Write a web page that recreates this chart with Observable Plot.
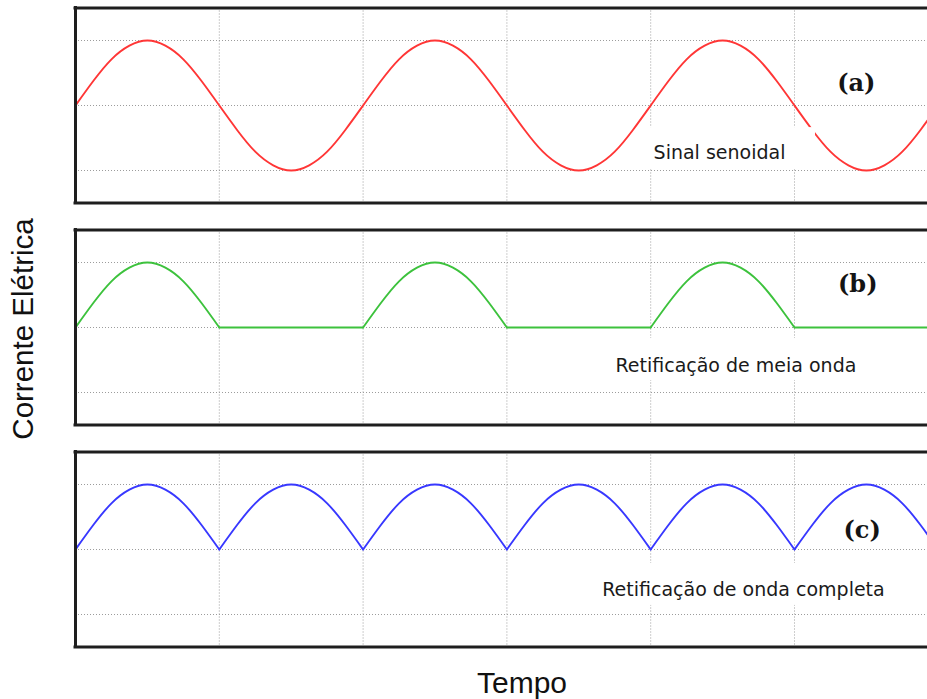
<!DOCTYPE html>
<html>
<head>
<meta charset="utf-8">
<script src="https://cdn.jsdelivr.net/npm/d3@7"></script>
<script src="https://cdn.jsdelivr.net/npm/@observablehq/plot@0.6"></script>
<style>
  html, body { margin: 0; padding: 0; background: #fff; overflow: hidden; }
  #wrap { position: relative; width: 927px; height: 699px; }
  #wrap svg { display: block; }
  #overlay { position: absolute; left: 0; top: 0; pointer-events: none; }
</style>
</head>
<body>
<div id="wrap"></div>
<script>
// Tempo (em meios-períodos)
const tempo = [
  0, 0.125, 0.25, 0.375, 0.5, 0.625, 0.75, 0.875,
  1, 1.125, 1.25, 1.375, 1.5, 1.625, 1.75, 1.875,
  2, 2.125, 2.25, 2.375, 2.5, 2.625, 2.75, 2.875,
  3, 3.125, 3.25, 3.375, 3.5, 3.625, 3.75, 3.875,
  4, 4.125, 4.25, 4.375, 4.5, 4.625, 4.75, 4.875,
  5, 5.125, 5.25, 5.375, 5.5, 5.625, 5.75, 5.875,
  6
];
// (a) Sinal senoidal
const senoidal = [
  0, 0.38, 0.71, 0.92, 1, 0.92, 0.71, 0.38,
  0, -0.38, -0.71, -0.92, -1, -0.92, -0.71, -0.38,
  0, 0.38, 0.71, 0.92, 1, 0.92, 0.71, 0.38,
  0, -0.38, -0.71, -0.92, -1, -0.92, -0.71, -0.38,
  0, 0.38, 0.71, 0.92, 1, 0.92, 0.71, 0.38,
  0, -0.38, -0.71, -0.92, -1, -0.92, -0.71, -0.38,
  0
];
// (b) Retificação de meia onda
const meiaOnda = [
  0, 0.38, 0.71, 0.92, 1, 0.92, 0.71, 0.38,
  0, 0, 0, 0, 0, 0, 0, 0,
  0, 0.38, 0.71, 0.92, 1, 0.92, 0.71, 0.38,
  0, 0, 0, 0, 0, 0, 0, 0,
  0, 0.38, 0.71, 0.92, 1, 0.92, 0.71, 0.38,
  0, 0, 0, 0, 0, 0, 0, 0,
  0
];
// (c) Retificação de onda completa
const ondaCompleta = [
  0, 0.38, 0.71, 0.92, 1, 0.92, 0.71, 0.38,
  0, 0.38, 0.71, 0.92, 1, 0.92, 0.71, 0.38,
  0, 0.38, 0.71, 0.92, 1, 0.92, 0.71, 0.38,
  0, 0.38, 0.71, 0.92, 1, 0.92, 0.71, 0.38,
  0, 0.38, 0.71, 0.92, 1, 0.92, 0.71, 0.38,
  0, 0.38, 0.71, 0.92, 1, 0.92, 0.71, 0.38,
  0
];
const paineis = ["a", "b", "c"];
const rotulos = ["(a)", "(b)", "(c)"];
const descricoes = ["Sinal senoidal", "Retificação de meia onda", "Retificação de onda completa"];
const tituloY = "Corrente Elétrica";
const tituloX = "Tempo";
const gradeX = [1, 2, 3, 4, 5];
const gradeY = [-1, 0, 1];
const bordaY = [-1.5, 1.5];

// build rows; rectified curves are split at the cusps
function linhas(valores, painel, partir) {
  const rows = [];
  tempo.forEach((t, i) => {
    const seg = partir ? Math.floor(t) : 0;
    rows.push({t, v: valores[i], painel, z: painel + seg});
    if (partir && Number.isInteger(t) && t > 0) rows.push({t, v: valores[i], painel, z: painel + (t - 1)});
  });
  return rows;
}
const dadosA = linhas(senoidal, "a", false);
const dadosB = linhas(meiaOnda, "b", true);
const dadosC = linhas(ondaCompleta, "c", true);

// annotation anchors (data units)
const rotuloPos = [
  {x: 5.43, y: 0.23},
  {x: 5.44, y: 0.54},
  {x: 5.47, y: 0.18}
];
const descPos = [
  {x: 4.02, y: -0.82},
  {x: 3.755, y: -0.69},
  {x: 3.663, y: -0.71}
];
const caixaPos = [
  {x1: 3.93, x2: 5.146, y1: -0.34, y2: -0.98},
  {x1: 3.685, x2: 5.53, y1: -0.17, y2: -0.815},
  {x1: 3.6, x2: 5.69, y1: -0.215, y2: -0.86}
];
const letras = paineis.map((p, i) => ({painel: p, texto: rotulos[i], ...rotuloPos[i]}));
const descr = paineis.map((p, i) => ({painel: p, texto: descricoes[i], ...descPos[i]}));
const caixas = paineis.map((p, i) => ({painel: p, ...caixaPos[i]}));

const grid = {stroke: "#9c9c9c", strokeWidth: 1, strokeDasharray: "1,2"};
const frameStyle = {stroke: "#1e1e1e", strokeWidth: 3, strokeLinecap: "square"};

const chart = Plot.plot({
  width: 927,
  height: 699,
  marginTop: 7.5,
  marginBottom: 52.5,
  marginLeft: 75,
  marginRight: 0,
  x: {domain: [0, 5.925], axis: null},
  y: {domain: [-1.5, 1.5], axis: null},
  fy: {domain: paineis, axis: null, paddingInner: 27 / 222, paddingOuter: 0, round: false},
  marks: [
    Plot.ruleX(gradeX, grid),
    Plot.ruleY(gradeY, grid),
    Plot.line(dadosA, {x: "t", y: "v", z: "z", fy: "painel", stroke: "#ff3636", strokeWidth: 1.9, curve: "natural", clip: true}),
    Plot.line(dadosB, {x: "t", y: "v", z: "z", fy: "painel", stroke: "#3dc23d", strokeWidth: 1.9, curve: "natural", clip: true}),
    Plot.line(dadosC, {x: "t", y: "v", z: "z", fy: "painel", stroke: "#3838ff", strokeWidth: 1.9, curve: "natural", clip: true}),
    Plot.rect(caixas, {x1: "x1", x2: "x2", y1: "y1", y2: "y2", fy: "painel", fill: "white"}),
    Plot.ruleX([0], frameStyle),
    Plot.ruleY(bordaY, frameStyle),
    Plot.text(letras, {x: "x", y: "y", fy: "painel", text: "texto", textAnchor: "middle", lineAnchor: "bottom",
      fontFamily: "DejaVu Serif", fontWeight: "bold", fontSize: 24, fill: "#141414"}),
    Plot.text(descr, {x: "x", y: "y", fy: "painel", text: "texto", textAnchor: "start", lineAnchor: "bottom",
      fontFamily: "DejaVu Sans", fontSize: 19, fill: "#1a1a1a"})
  ]
});
document.getElementById("wrap").appendChild(chart);

const ov = d3.select("#wrap").append("svg")
  .attr("id", "overlay").attr("width", 927).attr("height", 699);
ov.append("text")
  .attr("transform", "translate(33,329) rotate(-90)")
  .attr("text-anchor", "middle")
  .attr("font-family", "Liberation Sans, Arial, sans-serif")
  .attr("font-size", 29.5)
  .attr("fill", "#111")
  .text(tituloY);
ov.append("text")
  .attr("x", 522).attr("y", 693)
  .attr("text-anchor", "middle")
  .attr("font-family", "Liberation Sans, Arial, sans-serif")
  .attr("font-size", 30)
  .attr("fill", "#111")
  .text(tituloX);
</script>
</body>
</html>
